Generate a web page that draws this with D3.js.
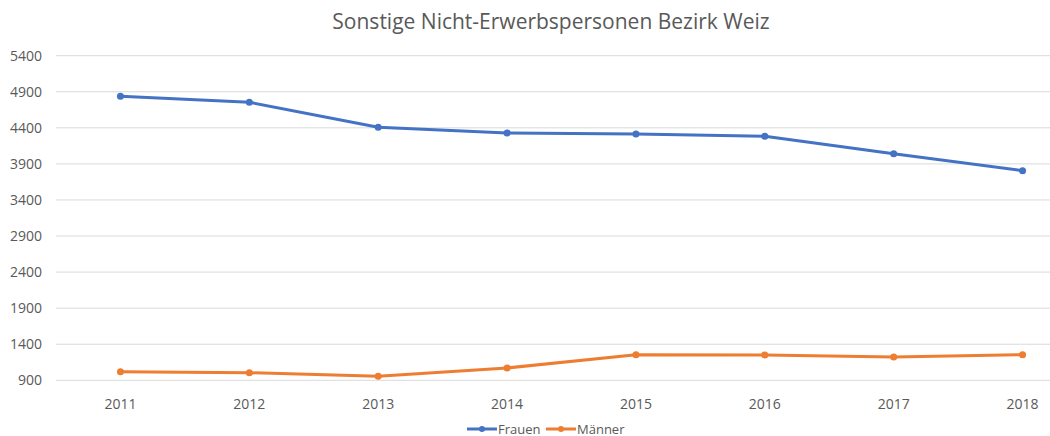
<!DOCTYPE html>
<html>
<head>
<meta charset="utf-8">
<script src="https://cdn.jsdelivr.net/npm/d3@7"></script>
<style>
  body { margin: 0; background: #fff; }
  svg { display: block; font-family: "Open Sans", "Noto Sans", sans-serif; }
</style>
</head>
<body>
<div id="chart"></div>
<script>
// chart data
var years = ["2011", "2012", "2013", "2014", "2015", "2016", "2017", "2018"];
var frauen = [4837, 4754, 4407, 4328, 4315, 4282, 4041, 3806];
var maenner = [1019, 1005, 955, 1071, 1255, 1252, 1223, 1255];
var yTicks = [900, 1400, 1900, 2400, 2900, 3400, 3900, 4400, 4900, 5400];
var seriesNames = ["Frauen", "Männer"];
var colors = ["#4472C4", "#ED7D31"];

var width = 1050, height = 436;
var svg = d3.select("#chart").append("svg").attr("width", width).attr("height", height);

var x = d3.scalePoint().domain(years).range([56, 1087]).padding(0.5);
var y = d3.scaleLinear().domain([900, 5400]).range([380.3, 55.7]);

// title
svg.append("text")
  .attr("x", 551).attr("y", 29)
  .attr("text-anchor", "middle")
  .style("font-size", "21px").style("fill", "#595959")
  .text("Sonstige Nicht-Erwerbspersonen Bezirk Weiz");

// grid
svg.append("g").selectAll("line").data(yTicks).enter().append("line")
  .attr("x1", 56).attr("x2", 1087)
  .attr("y1", function(d) { return y(d); }).attr("y2", function(d) { return y(d); })
  .style("stroke", "#d9d9d9").style("stroke-width", 1);

// y axis labels
svg.append("g").selectAll("text").data(yTicks).enter().append("text")
  .attr("x", 42).attr("y", function(d) { return y(d) + 5; })
  .attr("text-anchor", "end")
  .style("font-size", "14px").style("fill", "#595959")
  .text(function(d) { return d; });

// x axis labels
svg.append("g").selectAll("text").data(years).enter().append("text")
  .attr("x", function(d) { return x(d); }).attr("y", 409)
  .attr("text-anchor", "middle")
  .style("font-size", "14px").style("fill", "#595959")
  .text(function(d) { return d; });

var line = d3.line()
  .x(function(d, i) { return x(years[i]); })
  .y(function(d) { return y(d); });

[frauen, maenner].forEach(function(s, k) {
  var g = svg.append("g");
  g.append("path").datum(s).attr("d", line)
    .style("fill", "none").style("stroke", colors[k]).style("stroke-width", 3)
    .style("stroke-linejoin", "round").style("stroke-linecap", "round");
  g.selectAll("circle").data(s).enter().append("circle")
    .attr("cx", function(d, i) { return x(years[i]); })
    .attr("cy", function(d) { return y(d); })
    .attr("r", 3.5).style("fill", colors[k]);
});

// legend
var legendX = [467, 546];
seriesNames.forEach(function(n, k) {
  var lg = svg.append("g").attr("transform", "translate(" + legendX[k] + ",429)");
  lg.append("line").attr("x1", 0).attr("x2", 30).attr("y1", 0).attr("y2", 0)
    .style("stroke", colors[k]).style("stroke-width", 3);
  lg.append("circle").attr("cx", 15).attr("cy", 0).attr("r", 3).style("fill", colors[k]);
  lg.append("text").attr("x", 31).attr("y", 4.5)
    .style("font-size", "13px").style("fill", "#595959").text(n);
});
</script>
</body>
</html>
